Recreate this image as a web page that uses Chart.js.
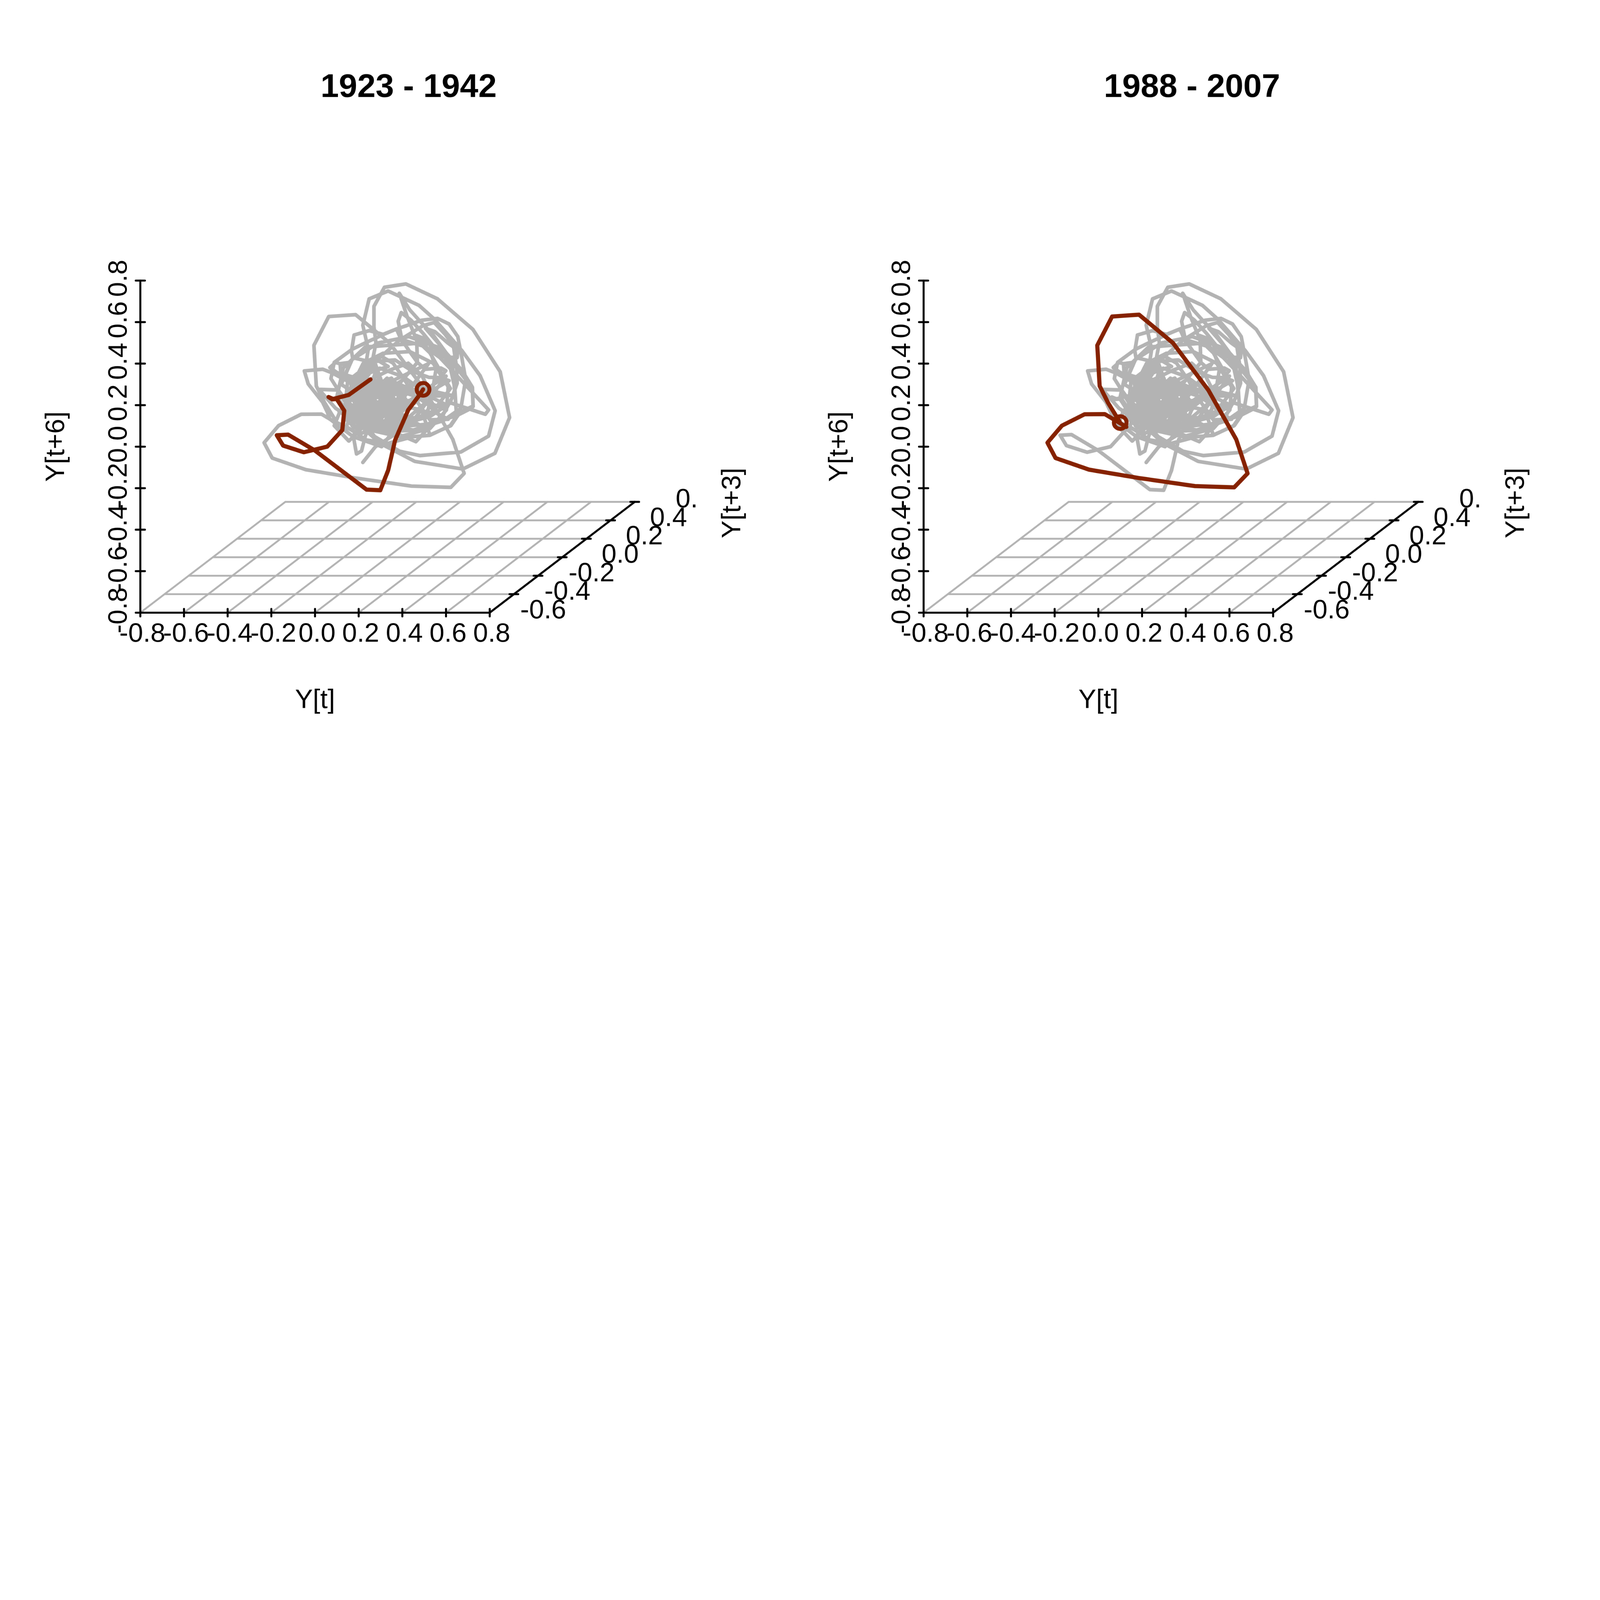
<!DOCTYPE html>
<html>
<head>
<meta charset="utf-8">
<title>Delay embedding</title>
<script src="https://cdn.jsdelivr.net/npm/chart.js@4/dist/chart.umd.min.js"></script>
<style>
  html, body { margin: 0; background: #fff; overflow: hidden; }
  canvas { position: absolute; top: 0; }
</style>
</head>
<body>
<canvas id="left" width="2452" height="2400"></canvas>
<canvas id="right" width="2452" height="2400"></canvas>
<script>
const xTicks = [-0.8, -0.6, -0.4, -0.2, 0, 0.2, 0.4, 0.6, 0.8];
const zTicks = [-0.8, -0.6, -0.4, -0.2, 0, 0.2, 0.4, 0.6, 0.8];
const depthGrid = [-0.8, -0.6, -0.4, -0.2, 0, 0.2, 0.4];
const depthTicks = [-0.6, -0.4, -0.2, 0, 0.2, 0.4, 0.6];
const depthLabels = ["-0.6", "-0.4", "-0.2", "0.0", "0.2", "0.4", "0."];

// trajectory, as projected [Y[t], Y[t+6]] pairs
const lead = [
  [.219,-.076],[.277,0],[.373,.064],[.462,.024],[.515,.085],[.442,.125],[.335,.161],[.236,.145],[.175,.053],[.190,-.035],
  [.213,-.021],[.231,.053],[.274,.153],[.373,.201],[.488,.177],[.526,.056],[.622,.101],[.656,.153],[.701,.177],[.724,.193],
  [.720,.284],[.633,.400],[.579,.482],[.506,.570],[.549,.554],[.610,.498],[.653,.466],[.651,.429],[.579,.434],[.537,.461],
  [.518,.514],[.465,.535],[.469,.406],[.505,.373],[.576,.379],[.599,.366],[.553,.308],[.488,.257],[.404,.201],[.312,.145],
  [.221,.096],[.155,.027],[.088,.101],[.114,.169],[.178,.257],[.244,.345],[.297,.439],[.358,.402],[.411,.321],[.473,.209],
  [.526,.129],[.610,.132],[.556,.161],[.465,.265],[.358,.313],[.251,.281],[.175,.193],[.144,.096],[.236,.032],[.335,.016],
  [.450,.048],[.527,.055],[.619,.101],[.659,.162],[.724,.196],[.721,.286],[.672,.369],[.602,.450],[.541,.538],[.483,.602],
  [.434,.659],[.386,.739],[.422,.627],[.465,.514],[.531,.447],[.555,.378],[.541,.289],[.518,.177],[.450,.112],[.328,.080],
  [.213,.120],[.152,.217],[.175,.337],[.266,.410],[.366,.418],[.450,.361],[.521,.334],[.572,.333],[.614,.318],[.526,.265],
  [.434,.193],[.328,.129],[.213,.064],[.144,.129],[.152,.241],[.198,.329],[.297,.378],[.404,.337],[.488,.273],[.558,.244],
  [.625,.247],[.537,.268],[.450,.305],[.358,.265],[.282,.209],[.373,.169],[.457,.217]
];
const stretchA = [
  [.495,.276],[.480,.251],[.427,.177],[.367,.032],[.335,-.114],[.299,-.210],[.236,-.207],[0,-.019],[-.123,.058],[-.175,.055],
  [-.146,.005],[-.051,-.027],[.056,0],[.125,.080],[.134,.173],[.099,.230],[.079,.228],[.062,.239],[.083,.230],[.154,.249],[.254,.324]
];
const middle = [
  [.343,.369],[.427,.402],[.488,.345],[.518,.284],[.502,.223],[.585,.182],[.602,.201],[.541,.233],[.434,.273],[.335,.241],
  [.244,.161],[.205,.080],[.228,.209],[.266,.321],[.279,.369],[.265,.424],[.279,.500],[.270,.577],[.270,.676],[.318,.768],
  [.416,.784],[.561,.712],[.723,.565],[.848,.361],[.891,.140],[.824,-.032],[.677,-.108],[.457,-.071],[.384,-.031],[.297,.016],
  [.198,.112],[.144,.201],[.190,.305],[.230,.378],[.244,.469],[.219,.585],[.248,.712],[.335,.750],[.476,.681],[.546,.615],
  [.674,.461],[.756,.342],[.825,.173],[.795,.051],[.668,-.026],[.480,-.043],[.387,-.022],[.274,.048],[.183,.161],[.236,.249],
  [.350,.281],[.465,.241],[.541,.185],[.618,.212],[.780,.156],[.795,.177],[.633,.361],[.572,.429],[.503,.482],[.396,.516],
  [.439,.450],[.469,.406],[.388,.305],[.297,.209],[.213,.161],[.141,.223],[.103,.278],[.073,.328],[.088,.406],[.170,.469],
  [.236,.503],[.315,.541],[.373,.567],[.401,.500],[.381,.604],[.395,.646],[.439,.610],[.495,.546],[.556,.466],[.607,.429],
  [.621,.374],[.640,.284],[.648,.149],[.515,.108],[.373,.096],[.266,.145],[.183,.241],[.236,.353],[.335,.386],[.266,.429],
  [.297,.337],[.236,.413],[.172,.429],[.167,.461],[.179,.538],[.248,.559],[.312,.541],[.373,.567],[.419,.583],[.488,.609],
  [.561,.618],[.614,.591],[.654,.530],[.672,.431],[.690,.323],[.668,.185],[.587,.125],[.450,.080],[.312,.112],[.205,.209],
  [.175,.305],[.221,.402],[.312,.450],[.434,.458],[.541,.402],[.610,.289],[.602,.177],[.527,.088],[.388,.048],[.251,.080],
  [.175,.225],[.251,.386],[.388,.514],[.495,.583],[.546,.598],[.596,.541],[.633,.490],[.648,.386],[.651,.305],[.618,.209],
  [.526,.145],[.404,.112],[.282,.096],[.175,.153],[.103,.273],[.018,.276],[.094,.185],[.129,.161],[.236,.217],[.328,.305],
  [.236,.321],[.186,.331],[.118,.353],[.115,.400],[.160,.406],[.141,.353],[.155,.390],[.094,.405],[.068,.381],[.099,.358],
  [.143,.334],[.239,.292],[.312,.225],[.073,.358],[.035,.373],[-.049,.365],[-.031,.302],[.035,.214],[.057,.165],[.068,.133],
  [.114,.096],[.175,.048],[.305,0],[.350,.064]
];
// the centre of the tangle is solid grey, so these turns are estimates
const knot = [
  [.165,.300],[.410,.110],[.190,.090],[.400,.320],[.165,.160],[.330,.330],[.420,.180],[.180,.330],[.250,.080],[.420,.260],
  [.230,.330],[.170,.120],[.360,.090],[.300,.330],[.160,.230],[.420,.140],[.210,.300],[.390,.085],[.270,.330],[.170,.190],
  [.410,.290],[.300,.085],[.175,.260],[.350,.330],[.420,.220],[.220,.095],[.160,.280],[.380,.300],[.280,.090],[.190,.220],
  [.340,.100],[.410,.240],[.250,.320],[.170,.100],[.320,.300],[.400,.170],[.200,.130],[.180,.310],[.360,.210],[.260,.110],
  [.230,.240],[.310,.170],[.220,.180],[.300,.260],[.340,.150]
];
const rings = [
  [.120,.300],[.170,.420],[.290,.500],[.430,.530],[.560,.480],[.630,.380],[.640,.260],[.580,.140],[.460,.080],[.300,.070],
  [.170,.130],[.100,.240],[.130,.380],[.230,.480],[.500,.500],[.620,.280],[.540,.170],[.400,.110],[.250,.120],[.140,.210],
  [.520,.400],[.360,.170],[.600,.340],[.460,.140],[.200,.110],[.110,.170],[.480,.230],[.130,.150],[.350,.070],[.560,.260],
  [.150,.320]
];
const stretchB = [
  [.128,.095],[.029,.157],[-.063,.156],[-.167,.101],[-.233,.019],[-.196,-.055],[-.042,-.111],[.184,-.151],[.442,-.190],[.622,-.196],
  [.683,-.129],[.631,.035],[.503,.273],[.341,.500],[.186,.636],[.063,.627],[-.005,.488],[.006,.292],[.044,.212],[.100,.116]
];
const tail = [[.167,.080],[.266,.161],[.388,.217]];

const GREY = "#b3b3b3";
const RUST = "#862200";
const FONT = "'Liberation Sans', Arial, sans-serif";
const TEXT_SIZE = 80;

function toPoints(pairs) {
  return pairs.map((p) => ({ x: p[0], y: p[1] }));
}

// floor of the 3d box: depth shears a point up and to the right
function floorPoint(x, d) {
  return { x: x + (d + 0.8) * 0.5535, y: -0.8 + (d + 0.8) * 0.445 };
}

function withBreaks(segments) {
  const out = [];
  segments.forEach((s) => {
    out.push(s[0], s[1], { x: NaN, y: NaN });
  });
  return out;
}

function lineSet(data, color, width) {
  return {
    data: data,
    showLine: true,
    borderColor: color,
    borderWidth: width,
    pointRadius: 0,
    tension: 0,
    clip: false,
    spanGaps: false,
    borderJoinStyle: "round",
    borderCapStyle: "round",
  };
}

const floorSegments = [
  ...xTicks.slice(0, 8).map((x) => [floorPoint(x, -0.8), floorPoint(x, 0.4)]),
  ...depthGrid.slice(1).map((d) => [floorPoint(-0.8, d), floorPoint(0.8, d)]),
];
const axisSegments = [
  [{ x: -0.8, y: -0.8 }, { x: -0.8, y: 0.8 }],
  [{ x: -0.8, y: -0.8 }, { x: 0.8, y: -0.8 }],
  [floorPoint(0.8, -0.8), floorPoint(0.8, 0.4)],
];
const tickSegments = [
  ...xTicks.map((x) => [{ x: x, y: -0.818 }, { x: x, y: -0.782 }]),
  ...zTicks.map((z) => [{ x: -0.821, y: z }, { x: -0.779, y: z }]),
  ...depthGrid.slice(1).map((d) => {
    const p = floorPoint(0.8, d);
    return [{ x: p.x - 0.02, y: p.y }, { x: p.x + 0.02, y: p.y }];
  }),
];

const boxText = {
  id: "boxText",
  afterDraw(chart) {
    const { ctx, scales } = chart;
    ctx.save();
    ctx.fillStyle = "#000";
    ctx.font = TEXT_SIZE + "px " + FONT;
    ctx.textBaseline = "middle";

    depthTicks.forEach((d, i) => {
      const p = floorPoint(0.8, d);
      const px = scales.x.getPixelForValue(p.x);
      const py = scales.y.getPixelForValue(p.y);
      const shift = depthLabels[i] === "0." ? 117 : 157;
      ctx.textAlign = "right";
      ctx.fillText(depthLabels[i], px + shift, py + 50);
    });

    ctx.textAlign = "center";
    ctx.fillText("Y[t]", scales.x.getPixelForValue(0), scales.y.bottom + 264);

    ctx.translate(2199, 1509);
    ctx.rotate(-Math.PI / 2);
    ctx.fillText("Y[t+3]", 0, 0);
    ctx.restore();
  },
};

function drawPanel(id, left, title, stretch, marker) {
  const path = [...lead, ...stretchA, ...middle, ...knot, ...rings, ...stretchB, ...tail];
  const canvas = document.getElementById(id);
  new Chart(canvas.getContext("2d"), {
    type: "scatter",
    data: {
      datasets: [
        {
          data: toPoints([marker]),
          pointRadius: 19,
          pointBorderWidth: 12,
          pointBackgroundColor: "transparent",
          pointBorderColor: RUST,
          clip: false,
        },
        lineSet(toPoints(stretch), RUST, 12.5),
        lineSet(toPoints(path), GREY, 11),
        lineSet(withBreaks(tickSegments), "#000", 6),
        lineSet(withBreaks(axisSegments), "#000", 6),
        lineSet(withBreaks(floorSegments), GREY, 5.5),
      ],
    },
    options: {
      responsive: false,
      animation: false,
      devicePixelRatio: 1,
      events: [],
      plugins: {
        legend: { display: false },
        tooltip: { enabled: false },
        title: {
          display: true,
          text: title,
          color: "#000",
          font: { family: FONT, size: 99, weight: "bold" },
          padding: { top: 204, bottom: 519 },
        },
      },
      scales: {
        x: {
          type: "linear",
          min: -0.8,
          max: 2.2525,
          grid: { display: false },
          border: { display: false },
          afterBuildTicks(scale) {
            scale.ticks = xTicks.map((v) => ({ value: v }));
          },
          afterFit(scale) {
            scale.height = 562;
          },
          ticks: {
            autoSkip: false,
            minRotation: 0,
            maxRotation: 0,
            padding: 9,
            labelOffset: 6,
            color: "#000",
            font: { family: FONT, size: TEXT_SIZE },
            callback: (v) => v.toFixed(1),
          },
        },
        y: {
          type: "linear",
          min: -0.8,
          max: 0.8,
          grid: { display: false },
          border: { display: false },
          afterBuildTicks(scale) {
            scale.ticks = zTicks.map((v) => ({ value: v }));
          },
          afterFit(scale) {
            scale.width = 421;
          },
          title: {
            display: true,
            text: "Y[t+6]",
            color: "#000",
            font: { family: FONT, size: TEXT_SIZE },
            padding: { top: 122, bottom: 0 },
          },
          ticks: {
            autoSkip: false,
            minRotation: 90,
            maxRotation: 90,
            crossAlign: "center",
            padding: -14,
            labelOffset: -7,
            color: "#000",
            font: { family: FONT, size: TEXT_SIZE },
            callback: (v) => v.toFixed(1),
          },
        },
      },
    },
    plugins: [boxText],
  });
  // the window can report fewer css pixels than the 4800 it is photographed at
  const fit = window.innerWidth / 4800;
  canvas.style.left = left * fit + "px";
  canvas.style.width = 2452 * fit + "px";
  canvas.style.height = 2400 * fit + "px";
}

drawPanel("left", 0, "1923 - 1942", stretchA, stretchA[0]);
drawPanel("right", 2350, "1988 - 2007", stretchB, stretchB[stretchB.length - 1]);
</script>
</body>
</html>
